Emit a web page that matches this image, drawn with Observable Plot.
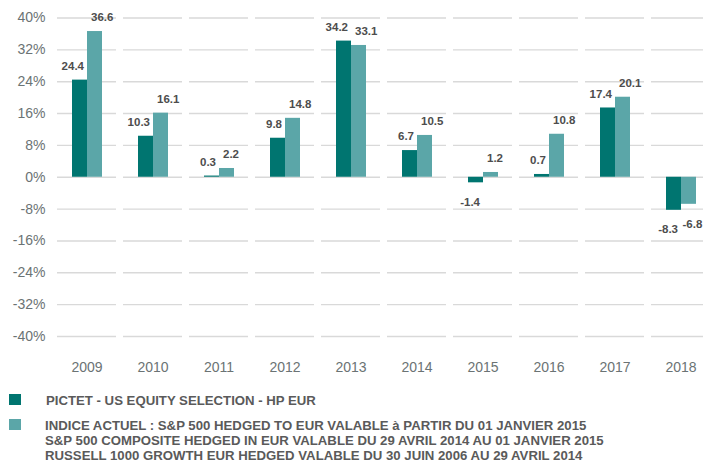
<!DOCTYPE html>
<html>
<head>
<meta charset="utf-8">
<script src="https://cdn.jsdelivr.net/npm/d3@7"></script>
<script src="https://cdn.jsdelivr.net/npm/@observablehq/plot@0.6"></script>
<style>
  html, body { margin: 0; padding: 0; background: #fff; overflow: hidden; }
  #wrap { position: relative; width: 703px; height: 463px; }
  #chart svg { display: block; }
  .leg { position: absolute; font-family: "Liberation Sans", Arial, sans-serif; font-weight: bold; font-size: 13.2px; color: #5a5a5a; line-height: 15px; white-space: nowrap; }
  .sw { position: absolute; width: 12px; height: 11px; }
</style>
</head>
<body>
<div id="wrap">
  <div id="chart"></div>
  <div class="sw" style="left:9px; top:394px; background:#007570"></div>
  <div class="leg" style="left:46px; top:392.5px">PICTET - US EQUITY SELECTION - HP EUR</div>
  <div class="sw" style="left:9px; top:419px; background:#5ba6a8"></div>
  <div class="leg" style="left:45px; top:417.5px">INDICE ACTUEL : S&amp;P 500 HEDGED TO EUR VALABLE à PARTIR DU 01 JANVIER 2015<br>S&amp;P 500 COMPOSITE HEDGED IN EUR VALABLE DU 29 AVRIL 2014 AU 01 JANVIER 2015<br>RUSSELL 1000 GROWTH EUR HEDGED VALABLE DU 30 JUIN 2006 AU 29 AVRIL 2014</div>
</div>
<script>
const years = ["2009","2010","2011","2012","2013","2014","2015","2016","2017","2018"];
const fundValues = [24.4, 10.3, 0.3, 9.8, 34.2, 6.7, -1.4, 0.7, 17.4, -8.3];
const indexValues = [36.6, 16.1, 2.2, 14.8, 33.1, 10.5, 1.2, 10.8, 20.1, -6.8];
const seriesNames = ["fund", "index"];
const seriesColors = ["#007570", "#5ba6a8"];
const yTicks = [-40, -32, -24, -16, -8, 0, 8, 16, 24, 32, 40];

const data = [];
years.forEach((yr, i) => {
  data.push({year: yr, series: "fund", value: fundValues[i]});
  data.push({year: yr, series: "index", value: indexValues[i]});
});

const fmt = d => d.toFixed(1);
const labelStyle = {x: "series", y: "value", text: d => fmt(d.value), fill: "#4d4d4d", fontWeight: "bold", fontSize: 11.5};

const plot = Plot.plot({
  width: 703,
  height: 378,
  marginTop: 17.5,
  marginBottom: 42,
  marginLeft: 53,
  marginRight: 0,
  style: {fontFamily: "'Liberation Sans', Arial, sans-serif", fontSize: "14px", color: "#6b7374", background: "#fff"},
  fx: {domain: years, range: [53, 713.5], paddingInner: 0.106, paddingOuter: 0.053, label: null, tickSize: 0, tickPadding: 26},
  x: {domain: seriesNames, paddingInner: 0, paddingOuter: 0.9, axis: null},
  y: {domain: [-40, 40], ticks: yTicks, tickFormat: d => d + "%", tickSize: 0, tickPadding: 12, label: null},
  color: {domain: seriesNames, range: seriesColors},
  facet: {data: data, x: "year"},
  marks: [
    Plot.ruleY(yTicks, {stroke: "#d9d9d9", strokeWidth: 1.4}),
    Plot.barY(data, {x: "series", y: "value", fill: "series"}),
    Plot.text(data, {filter: d => d.series === "fund" && d.value >= 0, textAnchor: "end", dx: 4, dy: -14, ...labelStyle}),
    Plot.text(data, {filter: d => d.series === "index" && d.value >= 0, textAnchor: "start", dx: -4, dy: -14, ...labelStyle}),
    Plot.text(data, {filter: d => d.series === "fund" && d.value < 0, textAnchor: "end", dx: 4, dy: 19.5, ...labelStyle}),
    Plot.text(data, {filter: d => d.series === "index" && d.value < 0, textAnchor: "start", dx: -6.5, dy: 19.5, ...labelStyle})
  ]
});
document.getElementById("chart").appendChild(plot);
</script>
</body>
</html>
